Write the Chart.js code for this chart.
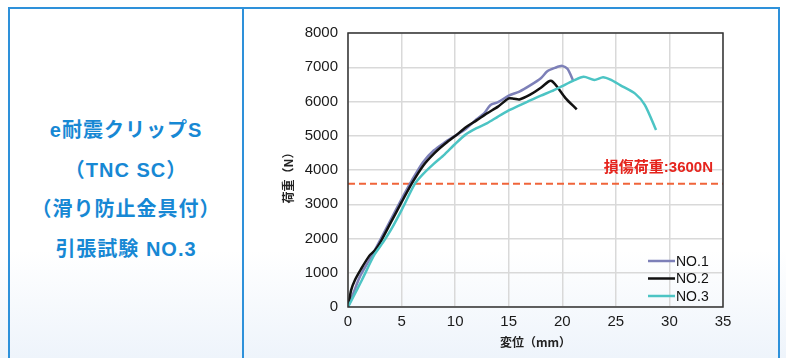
<!DOCTYPE html>
<html>
<head>
<meta charset="utf-8">
<script src="https://cdn.jsdelivr.net/npm/chart.js@4"></script>
<style>
  html, body { margin: 0; padding: 0; }
  body {
    width: 786px; height: 358px; position: relative; overflow: hidden;
    background: linear-gradient(to bottom, #ffffff 0px, #ffffff 250px, #eef4fb 358px);
    font-family: "Noto Sans CJK JP", sans-serif;
  }
  .frame {
    position: absolute; left: 8px; top: 7px; width: 772px; height: 360px;
    border: 2px solid #2e91da; box-sizing: border-box;
  }
  .divider {
    position: absolute; left: 242px; top: 7px; width: 2px; height: 360px; background: #2e91da;
  }
  .title {
    position: absolute; left: 10px; width: 232px; top: 111px;
    text-align: center; color: #1788d4; font-weight: bold; font-size: 20px;
    font-family: "Liberation Sans", "Noto Sans CJK JP", sans-serif;
    line-height: 39.5px; letter-spacing: 1px;
  }
  canvas { position: absolute; left: 0; top: 0; }
</style>
</head>
<body>
<div class="frame"></div>
<div class="divider"></div>
<div class="title">e耐震クリップS<br>（TNC SC）<br>（滑り防止金具付）<br>引張試験 NO.3</div>
<canvas id="c" width="786" height="358"></canvas>
<script>
// 変位 (mm) / 荷重 (N)
const no1X = [0, 0.5, 1.1, 2, 3, 4, 5, 6, 7, 8, 9, 10, 11, 12, 12.7, 13.3, 14, 15, 16, 17, 18, 18.6, 19.3, 20, 20.5, 21];
const no1Y = [0, 400, 880, 1380, 1950, 2550, 3150, 3720, 4230, 4570, 4800, 5000, 5200, 5480, 5650, 5900, 5980, 6170, 6290, 6470, 6680, 6880, 6980, 7040, 6950, 6620];

const no2X = [0, 0.3, 0.65, 1.2, 2, 2.5, 3, 4, 5, 6, 7, 8, 9, 10, 11, 12, 13, 14, 15, 15.5, 16, 17, 18, 18.7, 19, 19.5, 20.3, 21.35];
const no2Y = [0, 500, 790, 1100, 1500, 1650, 1880, 2470, 3060, 3630, 4120, 4470, 4750, 4990, 5250, 5450, 5660, 5850, 6090, 6080, 6060, 6200, 6400, 6580, 6600, 6440, 6100, 5770];

const no3X = [0, 0.5, 1.3, 2.45, 3.3, 4, 5, 6.25, 7, 8, 9, 10, 11, 12, 13, 14, 15, 16, 17, 18, 19, 20, 21, 22, 23, 23.8, 24.5, 25.4, 26.8, 27.7, 28.75];
const no3Y = [0, 300, 790, 1518, 1900, 2250, 2830, 3600, 3880, 4180, 4450, 4760, 5040, 5220, 5370, 5560, 5740, 5890, 6030, 6170, 6300, 6450, 6600, 6720, 6630, 6710, 6640, 6480, 6230, 5900, 5170];

const seriesNames = ['NO.1', 'NO.2', 'NO.3'];
const seriesColors = ['#7d80b8', '#111111', '#4cc4c4'];
const damageLoad = 3600;
const damageLabel = '損傷荷重:3600N';
const xTicks = [0, 5, 10, 15, 20, 25, 30, 35];
const yTicks = [0, 1000, 2000, 3000, 4000, 5000, 6000, 7000, 8000];

const pts = (xs, ys) => xs.map((x, i) => ({ x: x, y: ys[i] }));

const extras = {
  id: 'extras',
  afterDatasetsDraw(chart) {
    const { ctx, chartArea: a, scales } = chart;
    ctx.save();
    // frame round plot
    ctx.strokeStyle = '#333';
    ctx.lineWidth = 1.5;
    ctx.strokeRect(a.left, a.top, a.right - a.left, a.bottom - a.top);

    // damage label
    ctx.fillStyle = '#e5241d';
    ctx.font = 'bold 15px "Liberation Sans", "Noto Sans CJK JP"';
    ctx.textAlign = 'right';
    ctx.textBaseline = 'middle';
    ctx.fillText(damageLabel, a.right - 10, scales.y.getPixelForValue(damageLoad) - 16);

    // legend
    ctx.font = '14px "Liberation Sans"';
    ctx.textAlign = 'left';
    seriesNames.forEach((n, i) => {
      const y = a.bottom - 46 + i * 17.5;
      ctx.strokeStyle = seriesColors[i];
      ctx.lineWidth = 2.5;
      ctx.beginPath();
      ctx.moveTo(a.right - 75, y);
      ctx.lineTo(a.right - 48, y);
      ctx.stroke();
      ctx.fillStyle = '#111';
      ctx.fillText(n, a.right - 47, y + 1);
    });

    // axis titles
    ctx.fillStyle = '#222';
    ctx.font = 'bold 12px "Noto Sans CJK JP"';
    ctx.textAlign = 'center';
    ctx.fillText('変位（mm）', (a.left + a.right) / 2, 342);
    ctx.translate(288, (a.top + a.bottom) / 2 + 5);
    ctx.rotate(-Math.PI / 2);
    ctx.fillText('荷重（N）', 0, 0);
    ctx.restore();
  }
};

const line = (i, xs, ys) => ({
  label: seriesNames[i],
  data: pts(xs, ys),
  showLine: true,
  borderColor: seriesColors[i],
  borderWidth: 2.5,
  pointRadius: 0,
  tension: 0.25,
  order: 3 - i
});

new Chart(document.getElementById('c').getContext('2d'), {
  type: 'scatter',
  data: {
    datasets: [
      line(0, no1X, no1Y),
      line(1, no2X, no2Y),
      line(2, no3X, no3Y),
      {
        label: 'damage',
        data: [{ x: 0, y: damageLoad }, { x: 35, y: damageLoad }],
        showLine: true,
        borderColor: '#f0643a',
        borderWidth: 2,
        borderDash: [7, 4],
        pointRadius: 0,
        order: 5
      }
    ]
  },
  options: {
    responsive: false,
    animation: false,
    layout: { padding: { top: 33, right: 63, bottom: 0, left: 0 } },
    plugins: { legend: { display: false }, tooltip: { enabled: false } },
    scales: {
      x: {
        type: 'linear', min: 0, max: 35,
        afterFit: s => { s.height = 51; },
        afterBuildTicks: s => { s.ticks = xTicks.map(v => ({ value: v })); },
        grid: { color: '#d9d9d9', lineWidth: 1.5, drawTicks: false },
        border: { display: false },
        ticks: { color: '#1a1a1a', font: { family: 'Liberation Sans', size: 15 }, padding: 6, maxRotation: 0, callback: v => String(v) }
      },
      y: {
        type: 'linear', min: 0, max: 8000,
        afterFit: s => { s.width = 348; },
        afterBuildTicks: s => { s.ticks = yTicks.map(v => ({ value: v })); },
        grid: { color: '#d9d9d9', lineWidth: 1.5, drawTicks: false },
        border: { display: false },
        ticks: { color: '#1a1a1a', font: { family: 'Liberation Sans', size: 15 }, padding: 10, callback: v => String(v) }
      }
    }
  },
  plugins: [extras]
});
</script>
</body>
</html>
